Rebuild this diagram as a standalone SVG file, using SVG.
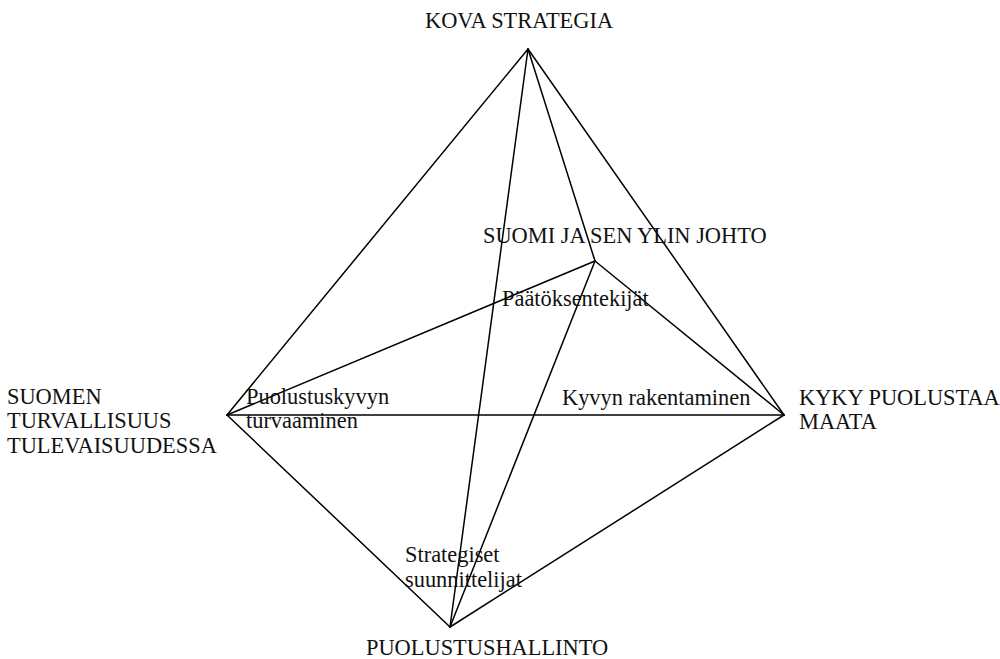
<svg xmlns="http://www.w3.org/2000/svg" width="1000" height="659" viewBox="0 0 1000 659">
  <style>
    .edge { stroke: #000; stroke-width: 1.5; fill: none; stroke-linecap: round; }
    .lbl { font-family: "Liberation Serif", "Times New Roman", serif; font-size: 22.4px; fill: #111; }
  </style>
  <rect width="1000" height="659" fill="#fff"/>
  <g id="connectors">
    <line class="edge" x1="528" y1="49" x2="227" y2="415"/>
    <line class="edge" x1="528" y1="49" x2="784" y2="415"/>
    <line class="edge" x1="528" y1="49" x2="595" y2="261"/>
    <line class="edge" x1="528" y1="49" x2="450" y2="627"/>
    <line class="edge" x1="595" y1="261" x2="227" y2="415"/>
    <line class="edge" x1="595" y1="261" x2="784" y2="415"/>
    <line class="edge" x1="595" y1="261" x2="450" y2="627"/>
    <line class="edge" x1="227" y1="415" x2="784" y2="415"/>
    <line class="edge" x1="227" y1="415" x2="450" y2="627"/>
    <line class="edge" x1="784" y1="415" x2="450" y2="627"/>
  </g>
  <g id="kova-strategia">
    <text class="lbl" x="425" y="28">KOVA STRATEGIA</text>
  </g>
  <g id="suomi-ylin-johto">
    <text class="lbl" x="483" y="243">SUOMI JA SEN YLIN JOHTO</text>
    <text class="lbl" x="502" y="306">Päätöksentekijät</text>
  </g>
  <g id="suomen-turvallisuus">
    <text class="lbl" x="7" y="404">SUOMEN</text>
    <text class="lbl" x="7" y="428">TURVALLISUUS</text>
    <text class="lbl" x="7" y="453">TULEVAISUUDESSA</text>
    <text class="lbl" x="246" y="404">Puolustuskyvyn</text>
    <text class="lbl" x="246" y="428">turvaaminen</text>
  </g>
  <g id="kyky-puolustaa">
    <text class="lbl" x="799" y="405">KYKY PUOLUSTAA</text>
    <text class="lbl" x="799" y="429">MAATA</text>
    <text class="lbl" x="562" y="405">Kyvyn rakentaminen</text>
  </g>
  <g id="puolustushallinto">
    <text class="lbl" x="366" y="655">PUOLUSTUSHALLINTO</text>
    <text class="lbl" x="405" y="562">Strategiset</text>
    <text class="lbl" x="405" y="587">suunnittelijat</text>
  </g>
</svg>
